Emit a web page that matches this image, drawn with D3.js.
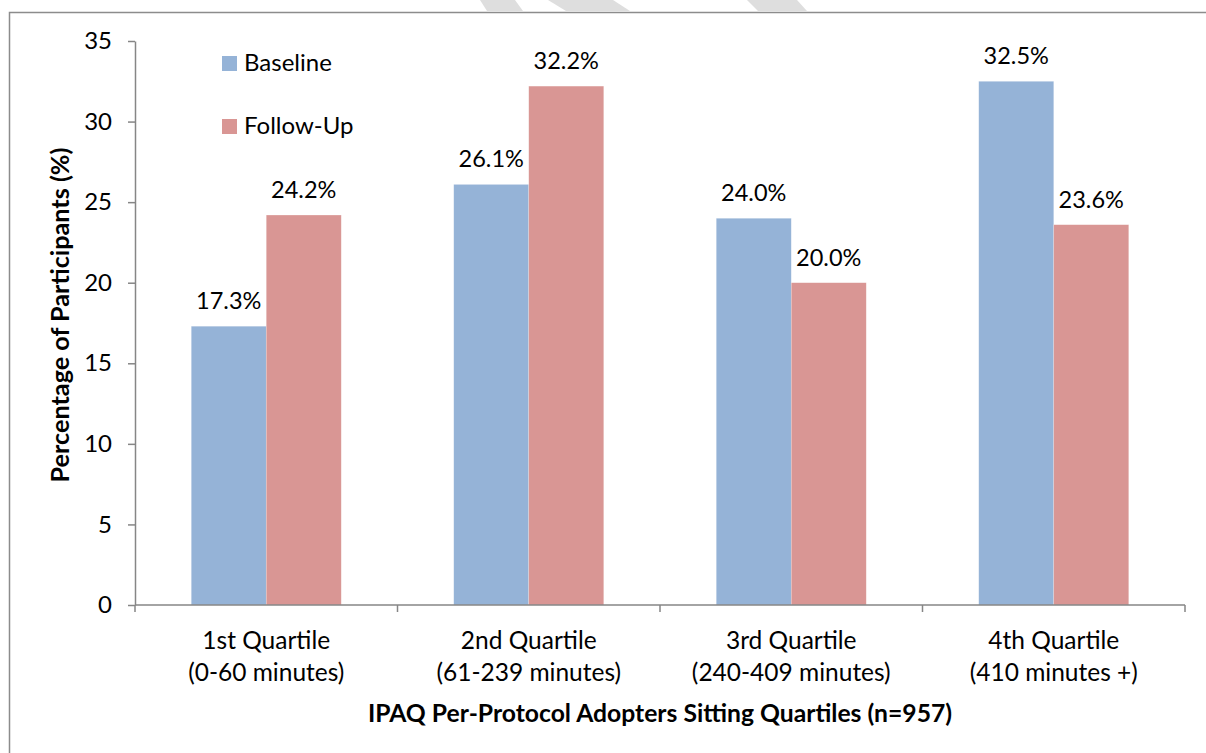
<!DOCTYPE html>
<html>
<head>
<meta charset="utf-8">
<script src="https://cdn.jsdelivr.net/npm/d3@7"></script>
<style>
  html, body { margin: 0; padding: 0; background: #fff; }
  svg { display: block; font-family: Lato, "Open Sans", sans-serif; }
</style>
</head>
<body>
<div id="chart"></div>
<script>
// data
const categories = ["1st Quartile", "2nd Quartile", "3rd Quartile", "4th Quartile"];
const subLabels = ["(0-60 minutes)", "(61-239 minutes)", "(240-409 minutes)", "(410 minutes +)"];
const seriesNames = ["Baseline", "Follow-Up"];
const baseline = [17.3, 26.1, 24.0, 32.5];
const followUp = [24.2, 32.2, 20.0, 23.6];
const yTicks = [0, 5, 10, 15, 20, 25, 30, 35];

const colors = ["#95b3d7", "#d99694"];
const width = 1206, height = 753;
const margin = { top: 41, right: 21, bottom: 148, left: 135 };

const svg = d3.select("#chart").append("svg")
    .attr("width", width)
    .attr("height", height);

// faint diagonal stripes peeking above the frame
const stripes = [
    [[480, 0], [515, 0], [523, 11], [487, 11]],
    [[548, 0], [613, 0], [630, 11], [566, 11]],
    [[747, 0], [797, 0], [807, 11], [758, 11]]
];
svg.append("g").selectAll("polygon")
    .data(stripes)
    .join("polygon")
    .attr("points", d => d.map(p => p.join(",")).join(" "))
    .attr("fill", "#dedede");

// outer frame (only top and left edges show)
svg.append("path")
    .attr("d", `M9.5,${height} V12.5 H${width}`)
    .attr("fill", "none")
    .attr("stroke", "#8c8c8c")
    .attr("stroke-width", 1.5);

const x = d3.scaleBand()
    .domain(categories)
    .range([margin.left, width - margin.right])
    .padding(0);

const bw = x.bandwidth();
const xs = d3.scaleBand()
    .domain(seriesNames)
    .range([bw * 0.75 / 3.5, bw - bw * 0.75 / 3.5]);

const y = d3.scaleLinear()
    .domain([0, 35])
    .range([height - margin.bottom, margin.top]);

const rows = categories.map((c, i) => ({
    cat: c,
    values: [baseline[i], followUp[i]]
}));

// bars
const groups = svg.append("g")
    .selectAll("g")
    .data(rows)
    .join("g")
    .attr("transform", d => `translate(${x(d.cat)},0)`);

groups.selectAll("rect")
    .data(d => d.values.map((v, j) => ({ name: seriesNames[j], v, j })))
    .join("rect")
    .attr("x", d => xs(d.name))
    .attr("y", d => y(d.v))
    .attr("width", xs.bandwidth())
    .attr("height", d => y(0) - y(d.v))
    .attr("fill", d => colors[d.j])
    .attr("stroke", "#fff")
    .attr("stroke-opacity", 0.35)
    .attr("stroke-width", 0.6);

groups.selectAll("text")
    .data(d => d.values.map((v, j) => ({ name: seriesNames[j], v })))
    .join("text")
    .attr("x", d => xs(d.name) + xs.bandwidth() / 2)
    .attr("y", d => y(d.v) - 17)
    .attr("text-anchor", "middle")
    .style("font-size", "23.5px")
    .attr("fill", "#000")
    .text(d => d3.format(".1f")(d.v) + "%");

// y axis
const yAxis = svg.append("g")
    .attr("transform", `translate(${margin.left},0)`)
    .call(d3.axisLeft(y).tickValues(yTicks).tickSize(7).tickPadding(16).tickSizeOuter(0));
yAxis.select(".domain").attr("stroke", "#868686").attr("stroke-width", 1.5);
yAxis.selectAll(".tick line").attr("stroke", "#868686").attr("stroke-width", 1.5);
yAxis.selectAll(".tick text")
    .style("font-size", "24px")
    .style("font-family", "Lato, sans-serif")
    .attr("fill", "#000");

// x axis: line with ticks at category boundaries
const xAxis = svg.append("g");
xAxis.append("line")
    .attr("x1", x.range()[0]).attr("x2", x.range()[1])
    .attr("y1", y(0)).attr("y2", y(0))
    .attr("stroke", "#868686").attr("stroke-width", 1.5);
const bounds = categories.map(c => x(c)).concat([x.range()[1]]);
xAxis.selectAll(".xt")
    .data(bounds)
    .join("line")
    .attr("class", "xt")
    .attr("x1", d => d).attr("x2", d => d)
    .attr("y1", y(0)).attr("y2", y(0) + 7)
    .attr("stroke", "#868686").attr("stroke-width", 1.5);

const catLabels = xAxis.selectAll(".cl")
    .data(categories)
    .join("text")
    .attr("class", "cl")
    .attr("text-anchor", "middle")
    .style("font-size", "24.5px")
    .attr("fill", "#000");
catLabels.append("tspan")
    .attr("x", d => x(d) + bw / 2)
    .attr("y", 649)
    .text(d => d);
catLabels.append("tspan")
    .attr("x", d => x(d) + bw / 2)
    .attr("y", 681)
    .text((d, i) => subLabels[i]);

// axis titles
svg.append("text")
    .attr("x", (x.range()[0] + x.range()[1]) / 2)
    .attr("y", 722)
    .attr("text-anchor", "middle")
    .style("font-size", "24.7px")
    .style("font-weight", "bold")
    .text("IPAQ Per-Protocol Adopters Sitting Quartiles (n=957)");

svg.append("text")
    .attr("transform", "translate(69,315) rotate(-90)")
    .attr("text-anchor", "middle")
    .style("font-size", "25.2px")
    .style("font-weight", "bold")
    .text("Percentage of Participants (%)");

// legend
const legend = svg.append("g")
    .selectAll("g")
    .data(seriesNames)
    .join("g")
    .attr("transform", (d, i) => `translate(222,${56 + i * 63})`);
legend.append("rect")
    .attr("width", 15).attr("height", 15)
    .attr("fill", (d, i) => colors[i]);
legend.append("text")
    .attr("x", 22)
    .attr("y", 15)
    .style("font-size", "24px")
    .text(d => d);
</script>
</body>
</html>
